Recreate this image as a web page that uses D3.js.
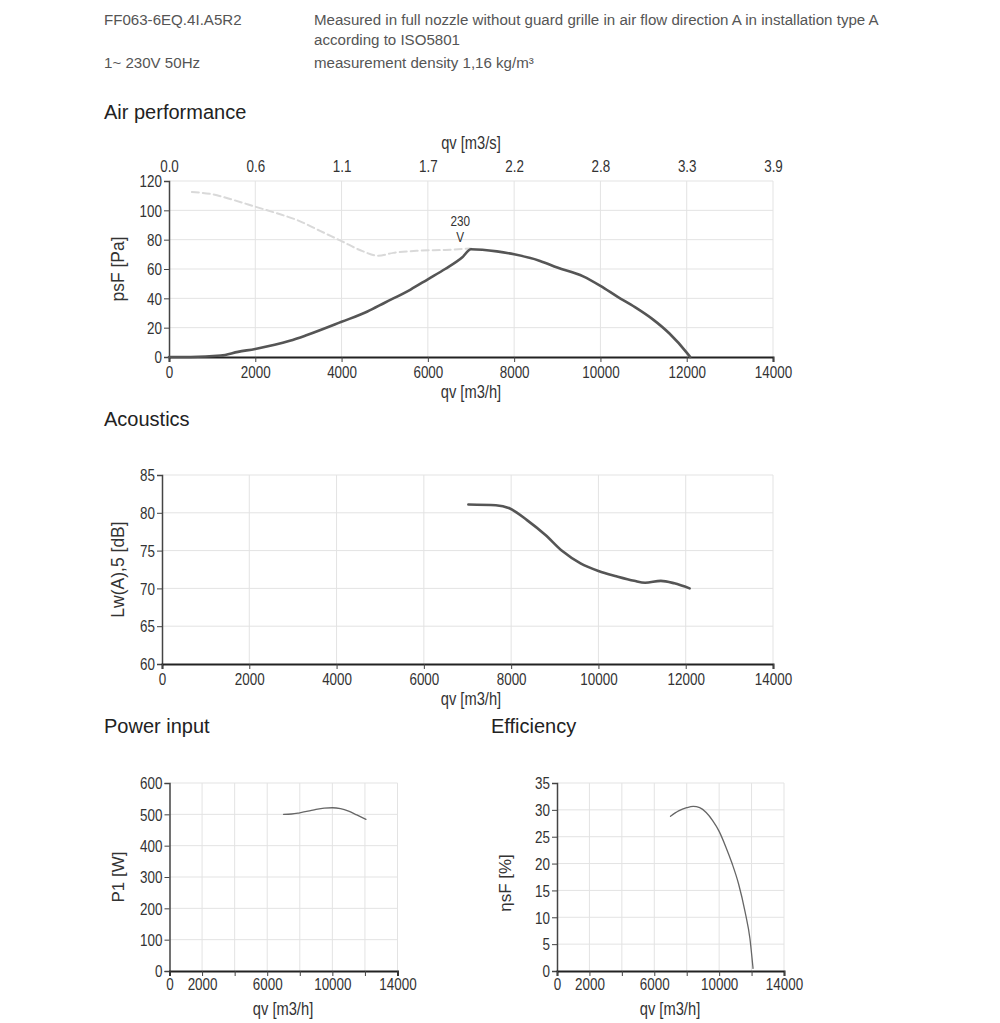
<!DOCTYPE html>
<html><head><meta charset="utf-8">
<script src="https://cdn.jsdelivr.net/npm/d3@7"></script>
<style>
body{margin:0;background:#fff;}
svg{display:block;}
.hdr{font-family:Arial,"Liberation Sans",sans-serif;font-size:15.1px;fill:#555;}
.sec{font-family:Arial,"Liberation Sans",sans-serif;font-size:20px;fill:#222;}
.reg{font-family:Arial,"Liberation Sans",sans-serif;fill:#333;}
</style></head><body>
<svg id="c" width="1000" height="1023"></svg>
<script>
// ---- data ----
const airQ   = [0,500,1200,1600,2000,2800,3200,4000,4600,5000,5600,6000,6400,6800,7000,7600,8000,8600,9000,9600,10000,10400,10800,11200,11600,12000,12080];
const airP   = [0,0,1,3.5,5.5,11,15,24,31,37,46,53,60,68,73.5,72,70,65.5,61,55,48.5,41,34,26,16,3,0];
const limQ   = [530,1000,1500,2000,2500,3000,3500,4000,4500,4850,5200,5800,6400,7000];
const limP   = [112.5,111,107,102.5,98,93,86,79,72,69,71,72.5,73,74];
const acQ    = [7020,7650,7960,8370,8780,9180,9590,10000,10410,10820,11070,11430,11740,12090];
const acLw   = [81.1,81.0,80.6,79.0,77.1,74.9,73.3,72.3,71.6,71.0,70.75,71.0,70.67,70.0];
const pwQ    = [7000,7500,8000,8500,9000,9500,10000,10500,11000,11500,12060];
const pwP    = [500,501,505,510,516,520,521,518,510,498,484];
const efQ    = [7000,7500,8000,8400,8800,9200,9600,10000,10400,10800,11200,11600,11900,12090];
const efE    = [28.8,29.8,30.4,30.65,30.4,29.5,28,26,23.2,20,16.2,11,6,0.5];
const topTickLabels = ["0.0","0.6","1.1","1.7","2.2","2.8","3.3","3.9"];
const qTicks = [0,2000,4000,6000,8000,10000,12000,14000];
const smallQLabels = [0,2000,6000,10000,14000];

const svg = d3.select("#c");
const SX = 0.84; // condensed look

// header
const hdr = [
  ["FF063-6EQ.4I.A5R2",104,25],["Measured in full nozzle without guard grille in air flow direction A in installation type A",314,25],
  ["according to ISO5801",314,45],["1~ 230V 50Hz",104,68],["measurement density 1,16 kg/m³",314,68]];
hdr.forEach(h=>svg.append("text").attr("class","hdr").attr("x",h[1]).attr("y",h[2]).text(h[0]));
[["Air performance",104,119],["Acoustics",104,426],["Power input",104,733],["Efficiency",491,733]].forEach(s=>
  svg.append("text").attr("class","sec").attr("x",s[1]).attr("y",s[2]).text(s[0]));

function condense(sel, fs){
  sel.attr("class","reg").attr("font-size",fs).attr("fill","#333").each(function(){
    const t = d3.select(this);
    const x = +(t.attr("x")||0);
    t.attr("x", x/SX).attr("transform",`scale(${SX},1)`);
  });
}
function condText(g, str, cx, y, fs, fill){
  return g.append("text").attr("class","reg").attr("font-size",fs).attr("fill",fill||"#333")
    .attr("text-anchor","middle").attr("x",cx/SX).attr("y",y).attr("transform",`scale(${SX},1)`).text(str);
}

function chart(o){
  const x = d3.scaleLinear().domain([0,14000]).range(o.xr);
  const y = d3.scaleLinear().domain(o.yd).range(o.yr);
  const g = svg.append("g");
  const yt = d3.range(o.yd[0], o.yd[1]+1e-9, o.ys);
  // grid
  g.selectAll(".gv").data(qTicks.slice(1)).join("line").attr("x1",d=>x(d)).attr("x2",d=>x(d))
    .attr("y1",o.yr[0]).attr("y2",o.yr[1]).attr("stroke","#e3e3e3").attr("stroke-width",1);
  g.selectAll(".gh").data(yt.slice(1)).join("line").attr("x1",o.xr[0]).attr("x2",o.xr[1])
    .attr("y1",d=>y(d)).attr("y2",d=>y(d)).attr("stroke","#e3e3e3").attr("stroke-width",1);
  // axes
  const ya = g.append("g").attr("transform",`translate(${o.xr[0]},0)`)
    .call(d3.axisLeft(y).tickValues(yt).tickSize(5).tickPadding(2).tickFormat(d3.format("d")));
  const xa = g.append("g").attr("transform",`translate(0,${o.yr[0]})`)
    .call(d3.axisBottom(x).tickValues(qTicks).tickSize(5).tickPadding(o.small?3:5)
      .tickFormat(d=> o.small ? (smallQLabels.includes(d)?d:"") : d));
  [ya,xa].forEach(a=>{
    a.select(".domain").attr("stroke","#444").attr("stroke-width",1.5);
    a.selectAll(".tick line").attr("stroke","#444");
    condense(a.selectAll("text"), 16);
  });
  ya.selectAll("text").attr("dy","0.36em");
  xa.select(".domain").attr("stroke","#222").attr("stroke-width",2);
  if(o.top){
    const xt = g.append("g").attr("transform",`translate(0,${o.yr[1]})`)
      .call(d3.axisTop(x).tickValues(qTicks).tickSize(0).tickPadding(9).tickFormat((d,i)=>topTickLabels[i]));
    xt.select(".domain").remove();
    condense(xt.selectAll("text"), 16);
    condText(g, "qv [m3/s]", (o.xr[0]+o.xr[1])/2, 149, 17.5);
  }
  condText(g, "qv [m3/h]", o.xtx, o.yr[0]+(o.small?44:41), 17.5);
  g.append("text").attr("class","reg").attr("font-size",o.yfs||17.5).attr("text-anchor","middle").attr("fill","#333")
    .attr("transform",`translate(${o.ytx},${(o.yr[0]+o.yr[1])/2+(o.ydy||0)}) rotate(-90)`).text(o.ylab);
  o.lines.forEach(L=>{
    const pts = L.q.map((q,i)=>[q,L.v[i]]);
    g.append("path").datum(pts).attr("fill","none").attr("stroke",L.c).attr("stroke-width",L.w)
      .attr("stroke-dasharray",L.dash||null).attr("stroke-linejoin","round").attr("stroke-linecap","round")
      .attr("d",d3.line().x(d=>x(d[0])).y(d=>y(d[1])).curve(d3.curveMonotoneX));
  });
  return {x,y,g};
}

const c1 = chart({xr:[169,773],yd:[0,120],ys:20,yr:[357,181],top:true,xtx:471,ytx:124,ylab:"psF [Pa]",
  lines:[{q:limQ,v:limP,c:"#d9d9d9",w:2,dash:"7,4"},{q:airQ,v:airP,c:"#555",w:2.6}]});
condText(c1.g, "230", c1.x(6750), 226, 14, "#444");
condText(c1.g, "V", c1.x(6750), 242, 14, "#444");

chart({xr:[162,773],yd:[60,85],ys:5,yr:[664,475],xtx:471,ytx:124,ylab:"Lw(A),5 [dB]",
  lines:[{q:acQ,v:acLw,c:"#555",w:2.6}]});
chart({xr:[169.5,397.5],yd:[0,600],ys:100,yr:[971,783],small:true,xtx:283,ytx:124,ylab:"P1 [W]",yfs:17,
  lines:[{q:pwQ,v:pwP,c:"#666",w:1.3}]});
chart({xr:[557,784],yd:[0,35],ys:5,yr:[971,783],small:true,xtx:670,ytx:511,ylab:"ηsF [%]",yfs:17,ydy:6,
  lines:[{q:efQ,v:efE,c:"#666",w:1.3}]});
</script></body></html>
